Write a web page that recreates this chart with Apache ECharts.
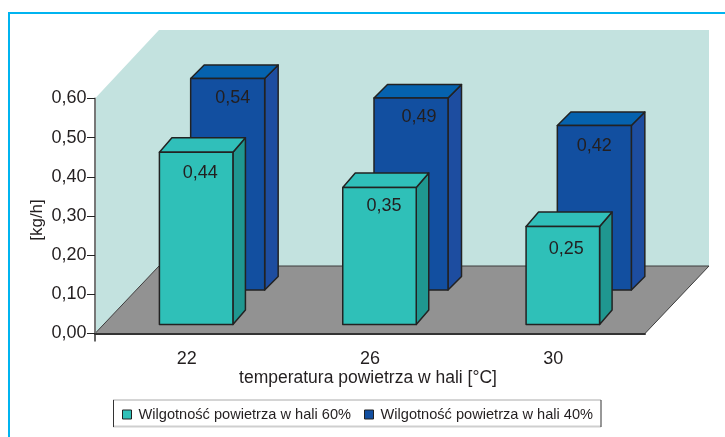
<!DOCTYPE html>
<html><head><meta charset="utf-8">
<style>html,body{margin:0;padding:0;background:#fff}#c{width:725px;height:437px}</style>
<script src="https://cdn.jsdelivr.net/npm/echarts@6/dist/echarts.min.js"></script>
</head><body><div id="c"></div>
<script>
const categories = ['22', '26', '30'];
const humidity60 = [0.44, 0.35, 0.25];
const humidity40 = [0.54, 0.49, 0.42];
const seriesNames = ['Wilgotność powietrza w hali 60%', 'Wilgotność powietrza w hali 40%'];
const yMax = 0.6, yStep = 0.1;
const comma = v => v.toFixed(2).replace('.', ',');

const FONT = '"Liberation Sans", Arial, sans-serif';
const INK = '#231f20';
const floorDepth = {x: 64, y: 67.5};
const frontStyle = {
  lift: 9, shift: 9.5, width: 73.5, dx: 12.5, dy: 14.5,
  face: '#2FC0B8', side: '#1F9790', top: '#30BFBA', nudge: [{x: 4, y: 21}, {x: 4.5, y: 19}, {x: 3.5, y: 22}]
};
const backStyle = {
  lift: 43.5, shift: 41, width: 74, dx: 13.5, dy: 13.5,
  face: '#124FA0', side: '#1D4DA0', top: '#0562AE', nudge: [{x: 5, y: 19.5}, {x: 8, y: 19}, {x: 0, y: 20.5}]
};

function boxRenderer(st) {
  return function (params, api) {
    const base = api.coord([api.value(0), 0]);
    const tip = api.coord([api.value(0), api.value(1)]);
    const h = base[1] - tip[1];
    const x0 = base[0] + st.shift - st.width / 2, x1 = x0 + st.width;
    const yb = base[1] - st.lift, yt = yb - h;
    const ln = {stroke: '#222', lineWidth: 1.5, lineJoin: 'round'};
    const nudge = st.nudge[params.dataIndex];
    return {type: 'group', children: [
      {type: 'polygon', shape: {points: [[x1, yb], [x1 + st.dx, yb - st.dy], [x1 + st.dx, yt - st.dy], [x1, yt]]}, style: {fill: st.side, ...ln}},
      {type: 'polygon', shape: {points: [[x0, yt], [x0 + st.dx, yt - st.dy], [x1 + st.dx, yt - st.dy], [x1, yt]]}, style: {fill: st.top, ...ln}},
      {type: 'rect', shape: {x: x0, y: yt, width: st.width, height: h}, style: {fill: st.face, ...ln}},
      {type: 'text', x: (x0 + x1) / 2 + nudge.x, y: yt + nudge.y, style: {
        text: comma(api.value(1)), fill: INK, font: '18px ' + FONT, align: 'center', verticalAlign: 'middle'}}
    ]};
  };
}

function stage(params) {
  const r = params.coordSys, L = r.x, R = r.x + r.width, T = r.y, B = r.y + r.height;
  const dx = floorDepth.x, dy = floorDepth.y;
  return {type: 'group', children: [
    {type: 'polygon', shape: {points: [[L, T], [L + dx, T - dy - 1], [R + dx, T - dy - 1], [R + dx, B - dy], [L + dx, B - dy], [L, B]]},
      style: {fill: '#C3E2DF'}},
    {type: 'polygon', shape: {points: [[L, B], [R, B], [R + dx, B - dy], [L + dx, B - dy]]},
      style: {fill: '#929292', stroke: '#3c3c3c', lineWidth: 1}},
    {type: 'line', shape: {x1: L, y1: B, x2: L, y2: B + 8}, style: {stroke: '#666', lineWidth: 2}}
  ]};
}

const chart = echarts.init(document.getElementById('c'), null, {renderer: 'canvas'});
chart.setOption({
  animation: false,
  backgroundColor: '#fff',
  textStyle: {fontFamily: FONT},
  grid: {left: 95, right: 80, top: 98.5, bottom: 103.5, containLabel: false},
  xAxis: {
    type: 'category', data: categories, z: 10,
    name: 'temperatura powietrza w hali [°C]', nameLocation: 'middle', nameGap: 35.5, nameMoveOverlap: false,
    nameTextStyle: {color: INK, fontSize: 17.5, fontFamily: FONT, padding: [0, 4, 0, 0]},
    axisLine: {lineStyle: {color: '#333', width: 2}},
    axisTick: {show: false},
    axisLabel: {color: INK, fontSize: 18, fontFamily: FONT, margin: 17}
  },
  yAxis: {
    type: 'value', min: 0, max: yMax, interval: yStep, z: 10,
    name: '[kg/h]', nameLocation: 'middle', nameGap: 49, nameMoveOverlap: false,
    nameTextStyle: {color: INK, fontSize: 17, fontFamily: FONT, padding: [0, 8, 0, 0]},
    axisLine: {show: true, lineStyle: {color: '#777', width: 2}},
    axisTick: {show: true, length: 8, lineStyle: {color: '#222', width: 1}},
    axisLabel: {color: INK, fontSize: 18, fontFamily: FONT, margin: 8.5, formatter: comma},
    splitLine: {show: false}
  },
  legend: {
    data: seriesNames, left: 113, top: 400, padding: [7, 9, 6, 9], itemGap: 13,
    itemWidth: 9, itemHeight: 9, icon: 'rect', itemStyle: {borderColor: '#222', borderWidth: 1},
    textStyle: {color: INK, fontSize: 14.6, fontFamily: FONT, padding: [0, 0, 0, 2]}
  },
  series: [
    {type: 'custom', name: 'stage', z: 1, silent: true, renderItem: stage, data: [0], encode: {x: 0}, tooltip: {show: false}},
    {type: 'custom', name: seriesNames[1], z: 2, itemStyle: {color: backStyle.face}, renderItem: boxRenderer(backStyle),
      data: humidity40.map((v, i) => [i, v]), encode: {x: 0, y: 1}},
    {type: 'custom', name: seriesNames[0], z: 3, itemStyle: {color: frontStyle.face}, renderItem: boxRenderer(frontStyle),
      data: humidity60.map((v, i) => [i, v]), encode: {x: 0, y: 1}}
  ],
  graphic: [
    {type: 'polyline', shape: {points: [[9, 437], [9, 13], [725, 13]]}, style: {fill: null, stroke: '#00B4F0', lineWidth: 2}, silent: true},
    {type: 'line', shape: {x1: 113, y1: 400, x2: 601, y2: 400}, style: {stroke: '#aaa', lineWidth: 1}, silent: true},
    {type: 'line', shape: {x1: 113, y1: 426.5, x2: 601, y2: 426.5}, style: {stroke: '#cfcfcf', lineWidth: 2}, silent: true},
    {type: 'line', shape: {x1: 113.5, y1: 400, x2: 113.5, y2: 427}, style: {stroke: '#333', lineWidth: 1}, silent: true},
    {type: 'line', shape: {x1: 601, y1: 400, x2: 601, y2: 427}, style: {stroke: '#333', lineWidth: 1}, silent: true}
  ]
});
</script></body></html>
